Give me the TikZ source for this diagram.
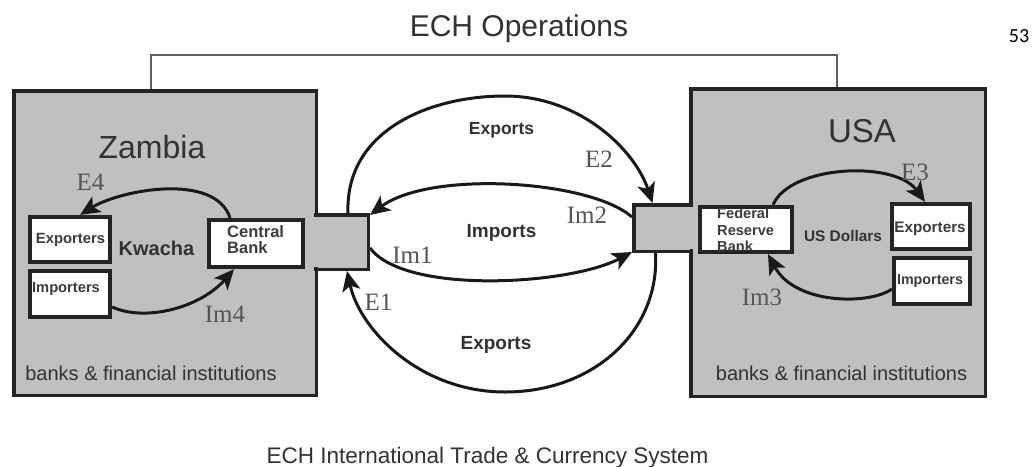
\documentclass[tikz,border=0pt]{standalone}
\usepackage{fontspec}
\setmainfont{Liberation Sans}
\newfontfamily\serifE{Liberation Serif}
\newfontfamily\carl{Carlito}
\usetikzlibrary{arrows.meta,calc}
\newcommand\fsz[1]{\fontsize{#1}{#1}\selectfont}
\definecolor{boxgray}{RGB}{192,192,192}
\definecolor{boxline}{RGB}{35,35,35}
\definecolor{arcblack}{RGB}{25,25,25}
\definecolor{txtgray}{RGB}{50,50,50}
\definecolor{intext}{RGB}{60,60,60}
\definecolor{elab}{RGB}{85,85,85}
\definecolor{brgray}{RGB}{95,95,95}
\begin{document}
\begin{tikzpicture}[x=1pt,y=-1pt,
  country/.style={draw=boxline,fill=boxgray,line width=3.5pt,rectangle,inner sep=0pt},
  inbox/.style={draw=boxline,fill=white,line width=3.8pt,rectangle,inner sep=0pt},
  flow/.style={line width=3pt,draw=arcblack,-{Stealth[length=20pt,width=18pt,inset=5pt]}},
  lab/.style={anchor=base,inner sep=0pt,text=txtgray},
  blab/.style={lab,font=\bfseries\fsz{#1}},
  elabel/.style={anchor=base,inner sep=0pt,text=elab,font=\serifE\fsz{25}},
  lline/.style={anchor=base west,inner sep=0pt,text=intext,font=\bfseries\fsz{#1}},
  bracket/.style={draw=brgray,line width=1.5pt}
]
\useasboundingbox (0,0) rectangle (1032,466);
\fill[white] (0,0) rectangle (1032,466);

% titles
\node[lab,font=\fsz{30}] (title) at (519,36) {ECH Operations};
\node[anchor=base,inner sep=0pt,font=\carl\fsz{20}] (pageno) at (1019,42) {53};
\node[lab,font=\fsz{22.5}] (caption) at (487.5,463) {ECH International Trade \& Currency System};

% bracket
\coordinate (brl) at (151,55);
\coordinate (brr) at (837,55);

% country boxes
\node[country,minimum width=302.5pt,minimum height=304.5pt] (zam) at (165,243) {};
\node[country,minimum width=294.5pt,minimum height=307.5pt] (usa) at (838,242.5) {};
\draw[bracket] (zam.north -| brl) -- (brl) -- (brr) -- (usa.north -| brr);
\node[country,minimum width=52.5pt,minimum height=54.5pt] (zport) at (342,242) {};
\node[country,minimum width=57.5pt,minimum height=46.5pt] (uport) at (662.5,228) {};
\fill[boxgray] (312,216.6) rectangle (322,267.4);
\fill[boxgray] (686,206.6) rectangle (696,249.4);

% country titles
\node[lab,font=\fsz{32}] (zamt) at (152,158) {Zambia};
\node[lab,font=\fsz{33}] (usat) at (862,142) {USA};
\node[lab,font=\fsz{20}] (zbank) at (151,380) {banks \& financial institutions};
\node[lab,font=\fsz{20}] (ubank) at (841.5,380) {banks \& financial institutions};

% Zambia inner boxes
\node[inbox,minimum width=80.5pt,minimum height=45.5pt] (zexp) at (70,239.5) {};
\node[inbox,minimum width=80.5pt,minimum height=46.5pt] (zimp) at (70,294) {};
\node[inbox,minimum width=94.5pt,minimum height=47.5pt] (cbank) at (256,243.5) {};
\node[blab=14.8,text=intext] (zexpt) at (70.5,243) {Exporters};
\node[blab=14.7,text=intext] (zimpt) at (66,292) {Importers};
\node[lline=16.5] (cb1) at (227,237) {Central};
\node[lline=16.5] (cb2) at (227,253) {Bank};
\node[blab=20] (kwacha) at (156.5,255) {Kwacha};

% USA inner boxes
\node[inbox,minimum width=92.5pt,minimum height=45.5pt] (frb) at (746,229.5) {};
\node[inbox,minimum width=78.5pt,minimum height=45.5pt] (uexp) at (931,226.5) {};
\node[inbox,minimum width=76.5pt,minimum height=46.5pt] (uimp) at (932,281) {};
\node[lline=14.6] (fr1) at (717,218) {Federal};
\node[lline=14.6] (fr2) at (717,235) {Reserve};
\node[lline=14.6] (fr3) at (717,251) {Bank};
\node[blab=15.3,text=intext] (uexpt) at (930,232) {Exporters};
\node[blab=14.3,text=intext] (uimpt) at (930,284) {Importers};
\node[blab=15.4] (usd) at (843,241) {US Dollars};

% flows
\coordinate (topap) at (505,96);
\coordinate (botap) at (505,392);
\draw[flow] ($(cbank.north)+(-26,0)$) .. controls (215,172) and (120,190) .. ($(zexp.north)+(10,0)$);
\draw[flow] ($(zimp.east)+(0,13)$) .. controls (145,322) and (200,308) .. ($(cbank.south)+(-22,0)$);
\draw[flow] ($(zport.north)+(6,0)$) .. controls (345,130) and (430,96) .. (topap) .. controls (580,96) and (635,150) .. ($(uport.north)+(-10,0)$);
\draw[flow] ($(uport.west)+(0,-11)$) .. controls (590,180) and (430,170) .. ($(zport.east)+(0,-27)$);
\draw[flow] ($(zport.east)+(0,6)$) .. controls (405,295) and (570,285) .. ($(uport.west)+(0,24)$);
\draw[flow] ($(uport.south)+(-7,0)$) .. controls (660,330) and (595,392) .. (botap) .. controls (420,392) and (360,330) .. ($(zport.south)+(5,0)$);
\draw[flow] ($(frb.north)+(27,0)$) .. controls (790,165) and (895,160) .. ($(uexp.north)+(-6,0)$);
\draw[flow] ($(uimp.west)+(0,8)$) .. controls (870,305) and (795,305) .. ($(frb.south)+(22,0)$);

% flow texts
\node[blab=17.5] (exptop) at (501.5,134) {Exports};
\node[blab=19] (impmid) at (501.5,237) {Imports};
\node[blab=19] (expbot) at (496,349) {Exports};

% flow labels
\node[elabel] (le4) at (90.5,190) {E4};
\node[elabel] (lim4) at (225,322) {Im4};
\node[elabel] (le1) at (378.5,310) {E1};
\node[elabel] (lim1) at (412.5,263) {Im1};
\node[elabel] (lim2) at (587,223) {Im2};
\node[elabel] (le2) at (599,167) {E2};
\node[elabel] (le3) at (915,180) {E3};
\node[elabel] (lim3) at (762,305) {Im3};
\end{tikzpicture}
\end{document}
